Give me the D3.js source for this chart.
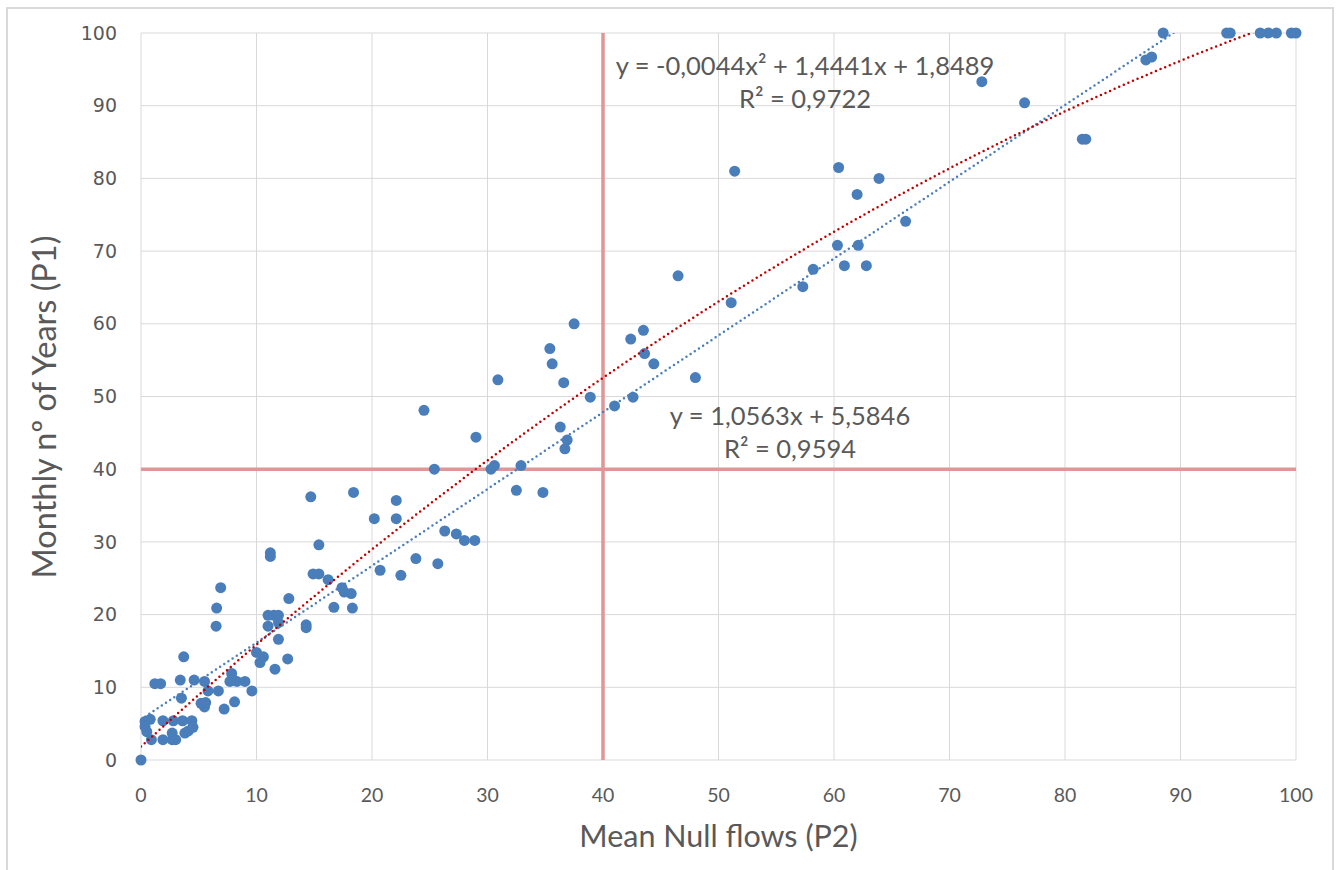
<!DOCTYPE html>
<html>
<head>
<meta charset="utf-8">
<title>P1 vs P2</title>
<script src="https://cdn.jsdelivr.net/npm/d3@7/dist/d3.min.js"></script>
<style>
  body { margin: 0; background: #fff; }
  text { font-family: Lato, "Open Sans", sans-serif; fill: #595959; }
</style>
</head>
<body>
<svg id="chart"></svg>
<script>
// Mean Null flows (P2)
const p2 = [0, 0.35, 0.8, 0.35, 0.5, 0.9, 1.9, 2.7, 3.0, 2.7, 1.9, 2.8, 3.6, 4.4, 4.5, 3.8, 4.1,
  1.2, 1.7, 3.4, 4.6, 5.5, 3.5, 3.7, 5.8, 6.7, 5.2, 5.5, 5.6, 7.2, 8.1, 7.85, 8.0, 7.7, 8.3, 9.0,
  9.6, 10.0, 10.6, 10.3, 12.7, 11.6, 11.9, 11.0, 11.9, 11.0, 11.5, 11.9, 14.3, 14.3, 6.5, 6.55,
  6.9, 11.2, 11.2, 12.8, 16.7, 18.3, 17.4, 17.6, 18.2, 16.2, 14.9, 15.4, 15.4, 14.7, 18.4, 20.2,
  22.1, 22.1, 20.7, 22.5, 23.8, 25.7, 26.3, 27.3, 28.0, 28.9, 25.4, 24.5, 29.0, 30.3, 30.6, 32.9,
  32.5, 34.8, 30.9, 36.3, 36.9, 36.7, 36.6, 38.9, 42.6, 41.0, 35.6, 35.4, 37.5, 43.5, 42.4, 43.6,
  44.4, 48.0, 46.5, 51.1, 51.4, 57.3, 58.2, 60.3, 62.1, 60.9, 62.8, 66.2, 62.0, 60.4, 63.9, 72.8,
  76.5, 81.5, 81.8, 87.0, 87.5, 88.5, 94.0, 94.3, 96.9, 97.6, 98.3, 99.6, 100]
// Monthly nº of Years (P1)
const p1 = [0, 5.3, 5.6, 4.6, 3.9, 2.8, 2.8, 2.8, 2.8, 3.7, 5.4, 5.4, 5.4, 5.4, 4.5, 3.7, 4.0,
  10.5, 10.5, 11.0, 11.0, 10.8, 8.5, 14.2, 9.5, 9.5, 7.8, 7.3, 7.9, 7.0, 8.0, 11.9, 11.0, 10.8, 10.8, 10.8,
  9.5, 14.8, 14.2, 13.4, 13.9, 12.5, 16.6, 18.4, 18.9, 19.9, 19.9, 19.9, 18.2, 18.6, 18.4, 20.9,
  23.7, 28.5, 28.0, 22.2, 21.0, 20.9, 23.7, 23.1, 22.9, 24.8, 25.6, 25.6, 29.6, 36.2, 36.8, 33.2,
  33.2, 35.7, 26.1, 25.4, 27.7, 27.0, 31.5, 31.1, 30.2, 30.2, 40.0, 48.1, 44.4, 40.0, 40.5, 40.5,
  37.1, 36.8, 52.3, 45.8, 44.0, 42.8, 51.9, 49.9, 49.9, 48.7, 54.5, 56.6, 60.0, 59.1, 57.9, 55.9,
  54.5, 52.6, 66.6, 62.9, 81.0, 65.1, 67.5, 70.8, 70.8, 68.0, 68.0, 74.1, 77.8, 81.5, 80.0, 93.3,
  90.4, 85.4, 85.4, 96.3, 96.7, 100, 100, 100, 100, 100, 100, 100, 100]

const ticks = [0, 10, 20, 30, 40, 50, 60, 70, 80, 90, 100]
const refLines = [40]                        // threshold lines on both axes
const linCoef = [5.5846, 1.0563]             // a0 + a1 x
const quadCoef = [1.8489, 1.4441, -0.0044]   // a0 + a1 x + a2 x^2
const linLabel = ["y = 1,0563x + 5,5846", "R² = 0,9594"]
const quadLabel = ["y = -0,0044x² + 1,4441x + 1,8489", "R² = 0,9722"]

const width = 1341, height = 870
const margin = { left: 141, right: 45, top: 33, bottom: 110 }

const svg = d3.select("#chart").attr("width", width).attr("height", height)

// outer chart border
svg.append("rect")
  .attr("x", 7).attr("y", 8).attr("width", 1326).attr("height", 870)
  .attr("fill", "none").attr("stroke", "#d9d9d9").attr("stroke-width", 2)

const x = d3.scaleLinear().domain([0, 100]).range([margin.left, width - margin.right])
const y = d3.scaleLinear().domain([0, 100]).range([height - margin.bottom, margin.top])

// grid
svg.append("g").selectAll("line").data(ticks).enter().append("line")
  .attr("x1", d => x(d)).attr("x2", d => x(d))
  .attr("y1", y(0)).attr("y2", y(100))
  .attr("stroke", "#d9d9d9")
svg.append("g").selectAll("line").data(ticks).enter().append("line")
  .attr("y1", d => y(d)).attr("y2", d => y(d))
  .attr("x1", x(0)).attr("x2", x(100))
  .attr("stroke", "#d9d9d9")

// tick labels
svg.append("g").selectAll("text").data(ticks).enter().append("text")
  .attr("x", 117).attr("y", d => y(d)).attr("dy", "0.35em")
  .attr("text-anchor", "end")
  .style("font-family", "'DejaVu Sans', sans-serif")
  .style("font-size", "19px")
  .text(d => d)
svg.append("g").selectAll("text").data(ticks).enter().append("text")
  .attr("x", d => x(d)).attr("y", y(0) + 35).attr("dy", "0.35em")
  .attr("text-anchor", "middle")
  .style("font-size", "19.5px")
  .text(d => d)

// axis titles
svg.append("text")
  .attr("transform", "translate(45, 407) rotate(-90)")
  .attr("text-anchor", "middle").attr("dy", "0.35em")
  .style("font-size", "32.5px")
  .text("Monthly nº of Years (P1)")
svg.append("text")
  .attr("x", (x(0) + x(100)) / 2).attr("y", 836).attr("dy", "0.35em")
  .attr("text-anchor", "middle")
  .style("font-size", "30.5px")
  .text("Mean Null flows (P2)")

// threshold lines
svg.append("g").selectAll("line").data(refLines).enter().append("line")
  .attr("x1", d => x(d)).attr("x2", d => x(d))
  .attr("y1", y(0)).attr("y2", y(100))
  .attr("stroke", "#e09696").attr("stroke-width", 3.5)
svg.append("g").selectAll("line").data(refLines).enter().append("line")
  .attr("y1", d => y(d)).attr("y2", d => y(d))
  .attr("x1", x(0)).attr("x2", x(100))
  .attr("stroke", "#e09696").attr("stroke-width", 3.5)

// points
svg.append("g").selectAll("circle").data(p2.map((d, i) => ({ x: d, y: p1[i] }))).enter()
  .append("circle")
  .attr("cx", d => x(d.x)).attr("cy", d => y(d.y))
  .attr("r", 5.5)
  .attr("fill", "#4a7ebb")

// trendlines, clipped to the plot area
svg.append("clipPath").attr("id", "plot")
  .append("rect").attr("x", x(0)).attr("y", y(100))
  .attr("width", x(100) - x(0)).attr("height", y(0) - y(100))

const xs = d3.range(0, 100.5, 0.5)
const poly = c => v => c.reduce((s, a, k) => s + a * Math.pow(v, k), 0)
const line = d3.line().x(d => x(d[0])).y(d => y(d[1]))

svg.append("path")
  .datum(xs.map(v => [v, poly(linCoef)(v)]))
  .attr("d", line).attr("clip-path", "url(#plot)")
  .attr("fill", "none").attr("stroke", "#4a7ebb").attr("stroke-width", 2.5)
  .attr("stroke-dasharray", "0,5").attr("stroke-linecap", "round")
svg.append("path")
  .datum(xs.map(v => [v, poly(quadCoef)(v)]))
  .attr("d", line).attr("clip-path", "url(#plot)")
  .attr("fill", "none").attr("stroke", "#c00000").attr("stroke-width", 2.5)
  .attr("stroke-dasharray", "0,5").attr("stroke-linecap", "round")

// equation labels
function eqLabel(lines, cx, y0) {
  const t = svg.append("text").attr("text-anchor", "middle").style("font-size", "25.5px")
  lines.forEach((s, i) => {
    t.append("tspan").attr("x", cx).attr("y", y0 + i * 33).text(s)
  })
}
eqLabel(quadLabel, 805, 75)
eqLabel(linLabel, 790, 425)
</script>
</body>
</html>
